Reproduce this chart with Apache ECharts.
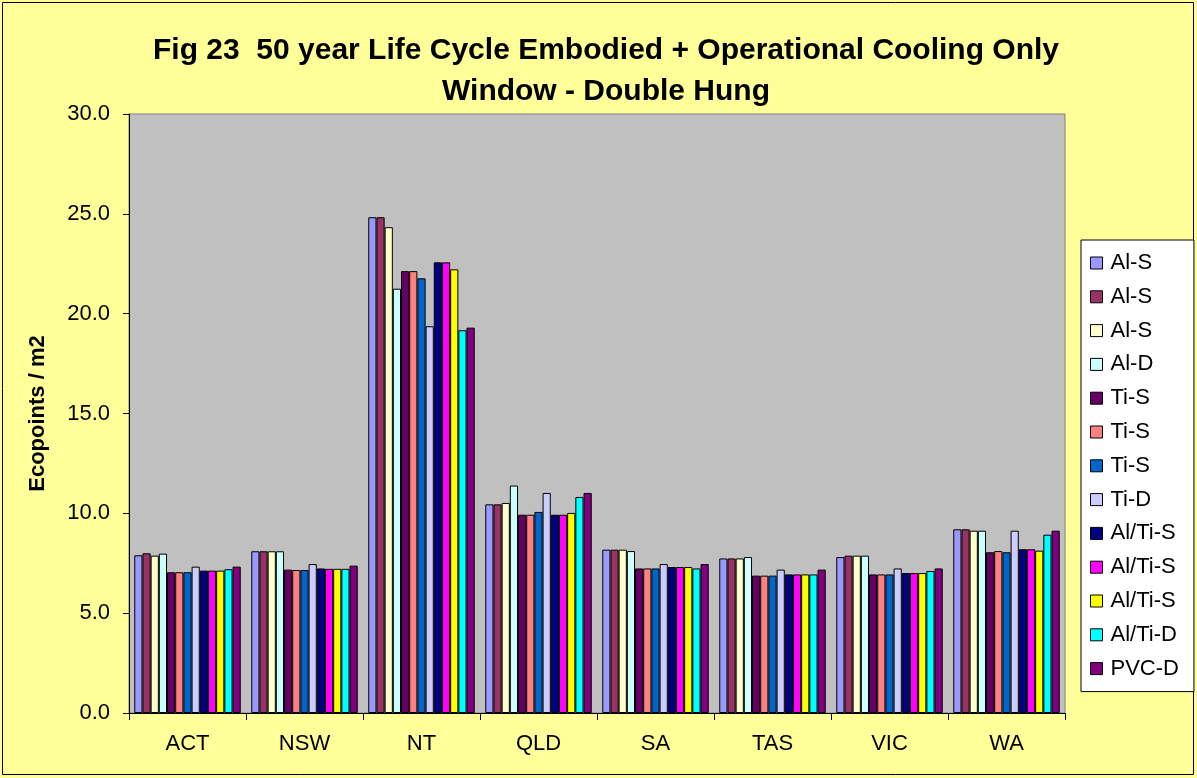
<!DOCTYPE html>
<html>
<head>
<meta charset="utf-8">
<script src="https://cdn.jsdelivr.net/npm/echarts@6/dist/echarts.min.js"></script>
<style>
html,body{margin:0;padding:0;background:#FFFF99;}
#chart{width:1197px;height:778px;}
</style>
</head>
<body>
<div id="chart"></div>
<script>
// Categories (states)
const categories = ['ACT', 'NSW', 'NT', 'QLD', 'SA', 'TAS', 'VIC', 'WA'];
// Series (window types) as shown in legend
const seriesLabels = ['Al-S', 'Al-S', 'Al-S', 'Al-D', 'Ti-S', 'Ti-S', 'Ti-S', 'Ti-D', 'Al/Ti-S', 'Al/Ti-S', 'Al/Ti-S', 'Al/Ti-D', 'PVC-D'];
const seriesColors = ['#9999FF', '#993366', '#FFFFCC', '#CCFFFF', '#660066', '#FF8080', '#0066CC', '#CCCCFF', '#000080', '#FF00FF', '#FFFF00', '#00FFFF', '#800080'];
// Values per state, in series order
const ACT = [7.90, 8.00, 7.88, 7.98, 7.05, 7.05, 7.05, 7.33, 7.13, 7.13, 7.13, 7.20, 7.33];
const NSW = [8.10, 8.10, 8.10, 8.10, 7.18, 7.16, 7.16, 7.46, 7.24, 7.22, 7.22, 7.22, 7.38];
const NT  = [24.83, 24.83, 24.33, 21.25, 22.13, 22.13, 21.77, 19.37, 22.57, 22.57, 22.22, 19.17, 19.30];
const QLD = [10.45, 10.45, 10.52, 11.39, 9.93, 9.93, 10.07, 11.02, 9.93, 9.93, 10.02, 10.82, 11.02];
const SA  = [8.18, 8.18, 8.18, 8.11, 7.24, 7.24, 7.24, 7.46, 7.31, 7.31, 7.31, 7.24, 7.46];
const TAS = [7.74, 7.74, 7.74, 7.81, 6.88, 6.88, 6.88, 7.18, 6.94, 6.94, 6.94, 6.94, 7.18];
const VIC = [7.81, 7.88, 7.88, 7.88, 6.94, 6.94, 6.94, 7.24, 7.01, 7.01, 7.01, 7.11, 7.24];
const WA  = [9.20, 9.20, 9.13, 9.13, 8.05, 8.11, 8.05, 9.13, 8.20, 8.20, 8.13, 8.93, 9.13];
const yTicks = { min: 0, max: 30, interval: 5 };

const byState = [ACT, NSW, NT, QLD, SA, TAS, VIC, WA];
const font = '"Liberation Sans", Arial, sans-serif';

const series = seriesLabels.map((lab, i) => ({
  name: lab + '#' + i,
  type: 'bar',
  data: byState.map(arr => arr[i]),
  barGap: '0%',
  barCategoryGap: '9%',
  itemStyle: { color: seriesColors[i], borderColor: '#000', borderWidth: 1 },
  emphasis: { disabled: true }
}));

const chart = echarts.init(document.getElementById('chart'), null, { renderer: 'canvas' });
chart.setOption({
  backgroundColor: '#FFFF99',
  animation: false,
  title: {
    text: 'Fig 23  50 year Life Cycle Embodied + Operational Cooling Only\nWindow - Double Hung',
    left: 601,
    textAlign: 'center',
    top: 25,
    textStyle: { fontFamily: font, fontSize: 30, fontWeight: 'bold', color: '#000', lineHeight: 41 }
  },
  legend: {
    orient: 'vertical',
    left: 1081,
    top: 240,
    data: series.map(s => s.name),
    formatter: n => n.split('#')[0],
    icon: 'rect',
    itemWidth: 12,
    itemHeight: 12,
    itemGap: 11.8,
    padding: [12, 15, 12, 9],
    backgroundColor: '#FFFFFF',
    borderColor: '#000',
    borderWidth: 1,
    borderRadius: 0,
    itemStyle: { borderColor: '#000', borderWidth: 1 },
    textStyle: { fontFamily: font, fontSize: 22, color: '#000', lineHeight: 22, padding: [0, 0, 0, 3] },
    selectedMode: false
  },
  grid: {
    left: 129, right: 132, top: 114, bottom: 65,
    show: true, backgroundColor: '#C0C0C0', borderColor: '#808080', borderWidth: 1,
    containLabel: false
  },
  xAxis: {
    type: 'category',
    data: categories,
    axisLine: { lineStyle: { color: '#000', width: 1 } },
    axisTick: { show: true, length: 7, lineStyle: { color: '#000' } },
    axisLabel: { fontFamily: font, fontSize: 22, color: '#000', margin: 20 },
    splitLine: { show: false }
  },
  yAxis: {
    type: 'value',
    min: yTicks.min, max: yTicks.max, interval: yTicks.interval,
    name: 'Ecopoints / m2',
    nameLocation: 'middle',
    nameGap: 80,
    nameTextStyle: { fontFamily: font, fontSize: 22, fontWeight: 'bold', color: '#000' },
    axisLine: { show: true, lineStyle: { color: '#000', width: 1 } },
    axisTick: { show: true, length: 6, lineStyle: { color: '#000' } },
    axisLabel: { fontFamily: font, fontSize: 22, color: '#000', margin: 19, formatter: v => v.toFixed(1) },
    splitLine: { show: false }
  },
  graphic: [{
    type: 'rect',
    shape: { x: 2.5, y: 2.5, width: 1191, height: 772 },
    style: { fill: null, stroke: '#000', lineWidth: 1 },
    silent: true
  }],
  series: series
});
</script>
</body>
</html>
